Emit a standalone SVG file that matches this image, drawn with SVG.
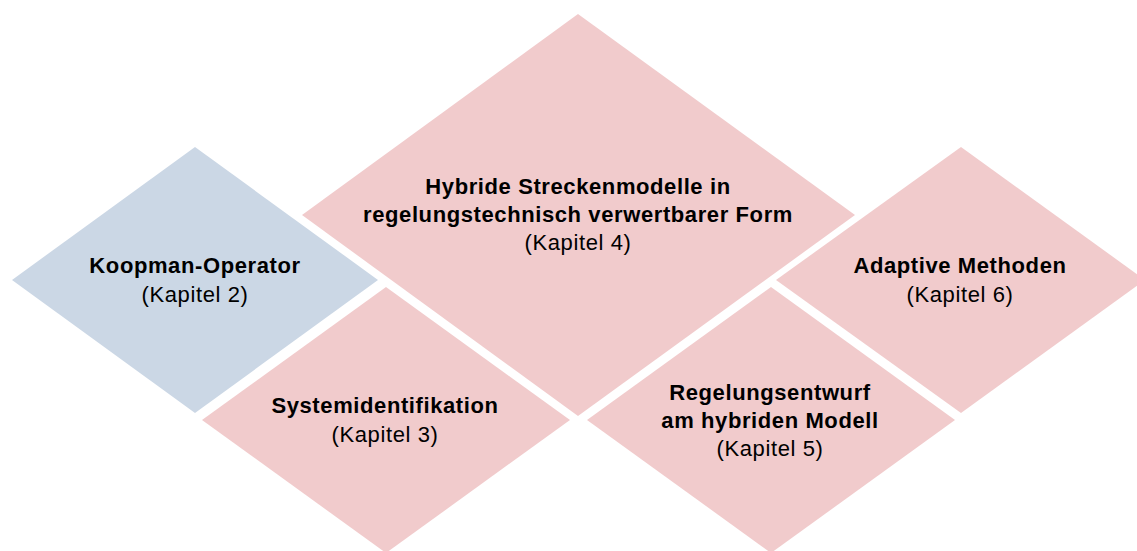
<svg xmlns="http://www.w3.org/2000/svg" width="1137" height="551" viewBox="0 0 1137 551">
<style>
.blue{fill:#cbd7e5}
.pink{fill:#f1cbcc}
text{font-family:"Liberation Sans",Arial,sans-serif;font-size:22px;text-anchor:middle;fill:#000;letter-spacing:0.6px}
.b{font-weight:bold}
</style>
<rect width="1137" height="551" fill="#fff"/>
<g id="koopman">
<polygon class="blue" points="12,280 195,147 378,280 195,413"/>
<text x="195" y="273" class="b">Koopman-Operator</text>
<text x="195" y="302">(Kapitel 2)</text>
</g>
<g id="hybrid">
<polygon class="pink" points="302,215 578,14 855,215 578,416"/>
<text x="578" y="194" class="b">Hybride Streckenmodelle in</text>
<text x="578" y="222" class="b">regelungstechnisch verwertbarer Form</text>
<text x="578" y="250">(Kapitel 4)</text>
</g>
<g id="sysid">
<polygon class="pink" points="202,420 386,287 570,420 386,553"/>
<text x="385" y="413" class="b">Systemidentifikation</text>
<text x="385" y="442">(Kapitel 3)</text>
</g>
<g id="regelung">
<polygon class="pink" points="587,420 771,287 955,420 771,553"/>
<text x="770" y="399.5" class="b">Regelungsentwurf</text>
<text x="770" y="427.5" class="b">am hybriden Modell</text>
<text x="770" y="455.5">(Kapitel 5)</text>
</g>
<g id="adaptive">
<polygon class="pink" points="776,280 961,147 1145,280 961,413"/>
<text x="960" y="273" class="b">Adaptive Methoden</text>
<text x="960" y="302">(Kapitel 6)</text>
</g>
<g id="connectors"></g>
</svg>
